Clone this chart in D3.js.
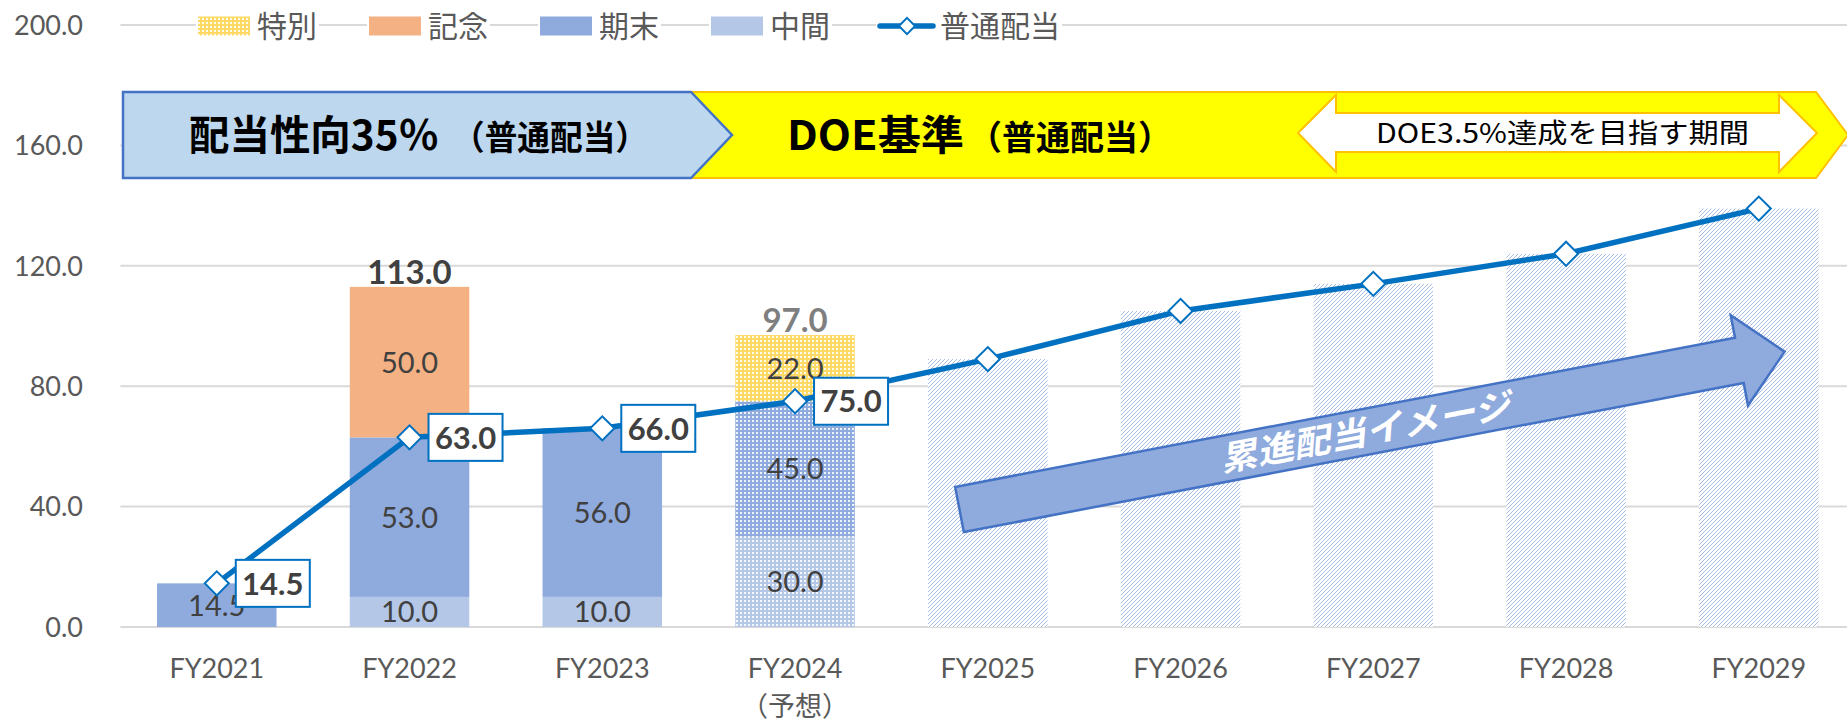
<!DOCTYPE html>
<html lang="ja">
<head>
<meta charset="utf-8">
<title>配当推移</title>
<script src="https://cdn.jsdelivr.net/npm/d3@7"></script>
<style>
  html, body { margin: 0; padding: 0; background: #fff; }
  svg { display: block; }
  text { font-family: Lato, "Noto Sans CJK JP", sans-serif; }
  .jp { font-family: "Noto Sans CJK JP", sans-serif; }
</style>
</head>
<body>
<svg id="chart"></svg>
<script>
// data
const categories = ["FY2021", "FY2022", "FY2023", "FY2024", "FY2025", "FY2026", "FY2027", "FY2028", "FY2029"];
const subLabels = ["", "", "", "（予想）", "", "", "", "", ""];
const interim = [0, 10, 10, 30, 0, 0, 0, 0, 0];          // 中間
const yearEnd = [14.5, 53, 56, 45, 0, 0, 0, 0, 0];       // 期末
const memorial = [0, 50, 0, 0, 0, 0, 0, 0, 0];           // 記念
const special = [0, 0, 0, 22, 0, 0, 0, 0, 0];            // 特別
const outlook = [0, 0, 0, 0, 89, 105, 114, 124, 139];    // 累進配当イメージ
const ordinary = [14.5, 63, 66, 75, 89, 105, 114, 124, 139]; // 普通配当
const forecast = [false, false, false, true, false, false, false, false, false];
const yTicks = [0, 40, 80, 120, 160, 200];

const W = 1847, H = 727;
const plotLeft = 120.4, plotRight = 1855.2, plotTop = 25, plotBottom = 627;

const colors = { interim: "#B4C7E7", yearEnd: "#8FAADC", memorial: "#F4B183", special: "#FFD966" };
const keys = ["interim", "yearEnd", "memorial", "special", "outlook"];

const rows = categories.map((c, i) => ({
  cat: c, interim: interim[i], yearEnd: yearEnd[i], memorial: memorial[i],
  special: special[i], outlook: outlook[i], idx: i
}));

const svg = d3.select("#chart").attr("width", W).attr("height", H);

const x = d3.scaleBand().domain(categories).range([plotLeft, plotRight]).paddingInner(0.38).paddingOuter(0.19);
const y = d3.scaleLinear().domain([0, 200]).range([plotBottom, plotTop]);
const cx = c => x(c) + x.bandwidth() / 2;

// patterns
const defs = svg.append("defs");
Object.keys(colors).forEach(k => {
  const p = defs.append("pattern").attr("id", "dot-" + k)
    .attr("patternUnits", "userSpaceOnUse").attr("width", 4).attr("height", 4);
  p.append("rect").attr("width", 4).attr("height", 4).attr("fill", colors[k]);
  p.append("rect").attr("width", 2).attr("height", 2).attr("fill", "#fff").attr("opacity", 0.85);
});
const hatch = defs.append("pattern").attr("id", "hatch")
  .attr("patternUnits", "userSpaceOnUse").attr("width", 4).attr("height", 4);
hatch.append("rect").attr("width", 4).attr("height", 4).attr("fill", "#fff");
hatch.append("path").attr("d", "M-1,1 l2,-2 M0,4 l4,-4 M3,5 l2,-2")
  .attr("stroke", "#A6BCE4").attr("stroke-width", 1);

// gridlines
svg.append("g").selectAll("line").data(yTicks).join("line")
  .attr("x1", plotLeft).attr("x2", W)
  .attr("y1", d => y(d)).attr("y2", d => y(d))
  .attr("stroke", "#D9D9D9").attr("stroke-width", 2);

// y labels
svg.append("g").selectAll("text").data(yTicks).join("text")
  .attr("x", 83).attr("y", d => y(d)).attr("dy", "0.36em")
  .attr("text-anchor", "end").attr("font-size", 27).attr("fill", "#595959")
  .text(d => d.toFixed(1));

// x labels
const xl = svg.append("g");
xl.selectAll("text.cat").data(categories).join("text").attr("class", "cat")
  .attr("x", d => cx(d)).attr("y", 678).attr("text-anchor", "middle")
  .attr("font-size", 27).attr("fill", "#595959").text(d => d);
xl.selectAll("text.sub").data(categories.filter((c, i) => subLabels[i])).join("text").attr("class", "sub jp")
  .attr("x", d => cx(d)).attr("y", 716).attr("text-anchor", "middle")
  .attr("font-size", 27).attr("fill", "#595959").text(d => subLabels[categories.indexOf(d)]);

// stacked bars
const stacked = d3.stack().keys(keys)(rows);
const fillFor = (key, i) => key === "outlook" ? "url(#hatch)" : (forecast[i] || key === "special") ? "url(#dot-" + key + ")" : colors[key];

const bars = svg.append("g");
stacked.forEach(s => {
  bars.append("g").selectAll("rect").data(s.filter(d => d[1] - d[0] > 0)).join("rect")
    .attr("x", d => x(d.data.cat)).attr("width", x.bandwidth())
    .attr("y", d => y(d[1])).attr("height", d => y(d[0]) - y(d[1]))
    .attr("fill", d => fillFor(s.key, d.data.idx));
});

// segment labels
stacked.filter(s => s.key !== "outlook").forEach(s => {
  bars.append("g").selectAll("text").data(s.filter(d => d[1] - d[0] > 0)).join("text")
    .attr("x", d => cx(d.data.cat)).attr("y", d => y((d[0] + d[1]) / 2)).attr("dy", "0.36em")
    .attr("text-anchor", "middle").attr("font-size", 29).attr("fill", "#404040")
    .text(d => (d[1] - d[0]).toFixed(1));
});

// totals above bars with extra dividends
const totals = rows.filter(r => r.memorial + r.special > 0)
  .map(r => ({ cat: r.cat, idx: r.idx, v: r.interim + r.yearEnd + r.memorial + r.special }));
svg.append("g").selectAll("text").data(totals).join("text")
  .attr("x", d => cx(d.cat)).attr("y", d => y(d.v) - 3)
  .attr("text-anchor", "middle").attr("font-size", 33).attr("font-weight", 700)
  .attr("fill", d => forecast[d.idx] ? "#7F7F7F" : "#404040")
  .text(d => d.v.toFixed(1));

// banner
const bTop = 92, bBot = 178, bMid = (bTop + bBot) / 2;
const banner = svg.append("g");
banner.append("path")
  .attr("d", `M689,${bTop} L1816,${bTop} L1848,${bMid} L1816,${bBot} L689,${bBot} Z`)
  .attr("fill", "#FFFF00").attr("stroke", "#FFC000").attr("stroke-width", 2);
banner.append("path")
  .attr("d", `M123,${bTop} L691,${bTop} L732,${bMid} L691,${bBot} L123,${bBot} Z`)
  .attr("fill", "#BDD7EE").attr("stroke", "#4472C4").attr("stroke-width", 2.5);
banner.append("path")
  .attr("d", "M1298,133 L1336,95 L1336,113 L1779,113 L1779,95 L1817,133 L1779,172 L1779,152 L1336,152 L1336,172 Z")
  .attr("fill", "#fff").attr("stroke", "#FFC000").attr("stroke-width", 2);
const bt = [
  { t: "配当性向35％", x: 189, len: 250, fs: 41 },
  { t: "（普通配当）", x: 452, len: 196, fs: 34 },
  { t: "DOE基準", x: 787, len: 177, fs: 41 },
  { t: "（普通配当）", x: 968, len: 204, fs: 34 }
];
banner.selectAll("text.b").data(bt).join("text").attr("class", "b jp")
  .attr("x", d => d.x).attr("y", 150).attr("font-size", d => d.fs).attr("font-weight", 700)
  .attr("fill", "#000").attr("textLength", d => d.len).attr("lengthAdjust", "spacingAndGlyphs")
  .text(d => d.t);
banner.append("text").attr("class", "jp")
  .attr("x", 1376).attr("y", 143).attr("font-size", 27).attr("fill", "#000")
  .attr("textLength", 373).attr("lengthAdjust", "spacingAndGlyphs")
  .text("DOE3.5%達成を目指す期間");

// big arrow
const arrow = svg.append("g").attr("transform", "translate(959.5,509.5) rotate(-10.83)");
arrow.append("path")
  .attr("d", "M0,-23 L794,-23 L794,-46 L840,0 L794,46 L794,23 L0,23 Z")
  .attr("fill", "#8FAADC").attr("stroke", "#4472C4").attr("stroke-width", 2.5);
arrow.append("text").attr("class", "jp")
  .attr("x", 413).attr("y", 0).attr("dy", "0.36em").attr("text-anchor", "middle")
  .attr("font-size", 34).attr("font-weight", 700).attr("font-style", "italic").attr("fill", "#fff")
  .attr("textLength", 295).attr("lengthAdjust", "spacingAndGlyphs")
  .text("累進配当イメージ");

// ordinary dividend line
const pts = categories.map((c, i) => ({ cat: c, v: ordinary[i], idx: i }));
svg.append("path").datum(pts)
  .attr("d", d3.line().x(d => cx(d.cat)).y(d => y(d.v)))
  .attr("fill", "none").attr("stroke", "#0070C0").attr("stroke-width", 5.5).attr("stroke-linejoin", "round");
const diamond = d3.symbol(d3.symbolSquare, 290);
svg.append("g").selectAll("path").data(pts).join("path")
  .attr("d", diamond)
  .attr("transform", d => `translate(${cx(d.cat)},${y(d.v)}) rotate(45)`)
  .attr("fill", "#fff").attr("stroke", "#0070C0").attr("stroke-width", 2);

// boxed labels
const boxed = pts.filter(d => outlook[d.idx] === 0);
const lb = svg.append("g").selectAll("g").data(boxed).join("g")
  .attr("transform", d => `translate(${cx(d.cat) + 19},${y(d.v)})`);
lb.append("rect").attr("x", 0).attr("y", -23.5).attr("width", 74).attr("height", 47)
  .attr("fill", "#fff").attr("stroke", "#0070C0").attr("stroke-width", 2);
lb.append("text").attr("x", 37).attr("y", 0).attr("dy", "0.36em").attr("text-anchor", "middle")
  .attr("font-size", 31).attr("font-weight", 700).attr("fill", "#404040")
  .text(d => d.v.toFixed(1));

// legend
const legend = [
  { name: "特別", x: 198, fill: "url(#dot-special)" },
  { name: "記念", x: 369, fill: colors.memorial },
  { name: "期末", x: 540, fill: colors.yearEnd },
  { name: "中間", x: 711, fill: colors.interim },
  { name: "普通配当", x: 878, line: true }
];
const lg = svg.append("g").selectAll("g").data(legend).join("g")
  .attr("transform", d => `translate(${d.x},26)`);
lg.append("rect").attr("x", -2).attr("y", -16).attr("height", 32)
  .attr("width", d => (d.line ? 62 : 59) + d.name.length * 30 + 4).attr("fill", "#fff");
lg.filter(d => !d.line).append("rect").attr("x", 0).attr("y", -9.5).attr("width", 52).attr("height", 19)
  .attr("fill", d => d.fill);
const ll = lg.filter(d => d.line);
ll.append("line").attr("x1", 2).attr("x2", 55).attr("y1", 0).attr("y2", 0)
  .attr("stroke", "#0070C0").attr("stroke-width", 5.5).attr("stroke-linecap", "round");
ll.append("path").attr("d", d3.symbol(d3.symbolSquare, 130))
  .attr("transform", "translate(29,0) rotate(45)")
  .attr("fill", "#fff").attr("stroke", "#0070C0").attr("stroke-width", 2);
lg.append("text").attr("class", "jp")
  .attr("x", d => d.line ? 62 : 59).attr("y", 0).attr("dy", "0.36em")
  .attr("font-size", 30).attr("fill", "#595959").text(d => d.name);
</script>
</body>
</html>
